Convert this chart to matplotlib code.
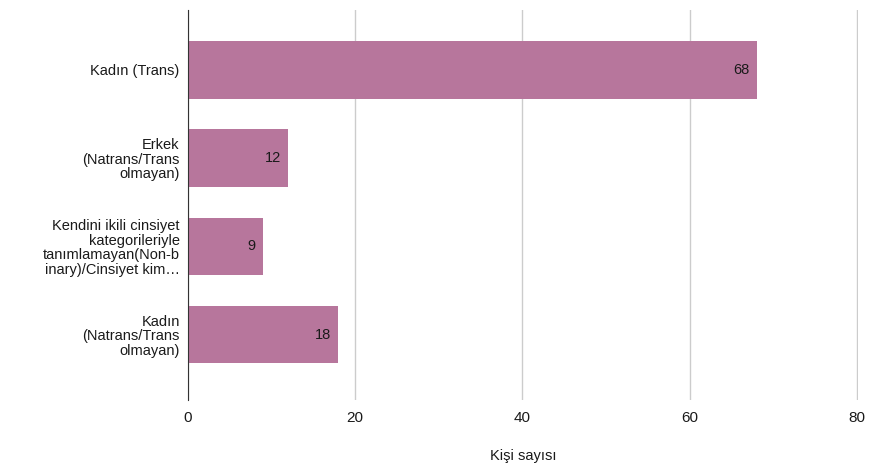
import matplotlib.pyplot as plt

plt.rcParams['font.family'] = ['Liberation Sans', 'DejaVu Sans']

# Veriler
kategoriler = [
    'Kadın (Trans)',
    'Erkek\n(Natrans/Trans\nolmayan)',
    'Kendini ikili cinsiyet\nkategorileriyle\ntanımlamayan(Non-b\ninary)/Cinsiyet kim…',
    'Kadın\n(Natrans/Trans\nolmayan)',
]
kisi_sayisi = [68, 12, 9, 18]
x_ticks = [0, 20, 40, 60, 80]

fig = plt.figure(figsize=(8.71, 4.71), dpi=100)
ax = fig.add_axes([0.2158, 0.151, 0.7695, 0.828])

pos = list(range(len(kategoriler)))
ax.barh(pos, kisi_sayisi, height=0.65, color='#b7769c', zorder=2)
for p, v in zip(pos, kisi_sayisi):
    ax.text(v - 0.9, p, str(v), ha='right', va='center', fontsize=10.5, color='#1a1a1a', zorder=3)

ax.set_ylim(3.74, -0.68)
ax.set_xlim(0, 80.15)
ax.set_yticks(pos)
ax.set_yticklabels(kategoriler, fontsize=10.5, color='#1a1a1a', linespacing=1.05)
ax.set_xticks(x_ticks)
ax.set_xticklabels([str(t) for t in x_ticks], fontsize=11, color='#1a1a1a')
ax.tick_params(axis='y', length=0, pad=6)
ax.tick_params(axis='x', length=0, pad=8)
ax.grid(axis='x', color='#cccccc', linewidth=1, zorder=0)
for s in ['top', 'right', 'bottom']:
    ax.spines[s].set_visible(False)
ax.spines['left'].set_color('#333333')
ax.spines['left'].set_zorder(4)
ax.set_xlabel('Kişi sayısı', fontsize=10.5, color='#1a1a1a', labelpad=17)

fig.savefig('out.png', dpi=100)
